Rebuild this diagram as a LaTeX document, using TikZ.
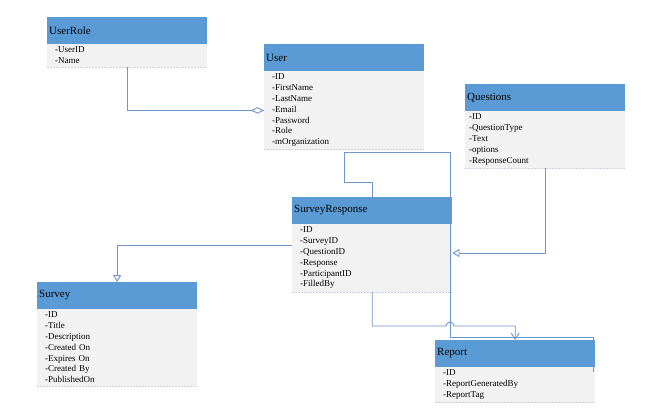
\documentclass[tikz,border=0pt]{standalone}
\usepackage{fontspec}
\setmainfont{Liberation Serif}
\usepackage{tikz}
\usetikzlibrary{arrows.meta,positioning,calc}

\definecolor{headblue}{HTML}{5B9BD5}
\definecolor{bodygrey}{HTML}{F2F2F2}
\definecolor{linkblue}{HTML}{6F96CC}
\definecolor{rulegrey}{HTML}{C9D0DB}

\tikzset{
  clshead/.style={fill=headblue,anchor=north west,minimum width=160pt,minimum height=26.5pt,
    text width=156pt,inner xsep=2pt,inner ysep=0pt,align=left,font=\rmfamily\fontsize{11}{12}\selectfont},
  clsbody/.style={fill=bodygrey,text width=144pt,inner xsep=8pt,inner ysep=3pt,align=left,
    font=\rmfamily\fontsize{9}{10.8}\selectfont},
  bodyrule/.style={draw=rulegrey,line width=1pt,dash pattern=on 2pt off 1pt},
  link/.style={draw=linkblue,line width=0.9pt},
}

\begin{document}
\begin{tikzpicture}[x=1pt,y=-1pt]
  \useasboundingbox[fill=white] (0,0) rectangle (646,418);

  \node[clshead] (urHead) at (47,17) {UserRole};
  \node[clsbody,below right=0pt and 0pt of urHead.south west] (urBody) {-UserID\\-Name};

  \node[clshead] (usrHead) at (264,44) {User};
  \node[clsbody,below right=0pt and 0pt of usrHead.south west] (usrBody)
    {-ID\\-FirstName\\-LastName\\-Email\\-Password\\-Role\\-mOrganization};

  \node[clshead] (qHead) at (465,84) {Questions};
  \node[clsbody,inner xsep=4pt,text width=152pt,below right=0pt and 0pt of qHead.south west] (qBody)
    {-ID\\-QuestionType\\-Text\\-options\\-ResponseCount};

  \node[clshead] (srHead) at (292,197) {SurveyResponse};
  \node[clsbody,below right=0pt and 0pt of srHead.south west] (srBody)
    {-ID\\-SurveyID\\-QuestionID\\-Response\\-ParticipantID\\-FilledBy};

  \node[clshead] (svHead) at (37,282) {Survey};
  \node[clsbody,below right=0pt and 0pt of svHead.south west] (svBody)
    {-ID\\-Title\\-Description\\-Created On\\-Expires On\\-Created By\\-PublishedOn};

  \node[clshead] (rpHead) at (435,340) {Report};
  \node[clsbody,below right=0pt and 0pt of rpHead.south west] (rpBody)
    {-ID\\-ReportGeneratedBy\\-ReportTag};

  \foreach \b in {urBody,usrBody,qBody,srBody,svBody,rpBody}
    \draw[bodyrule] (\b.south west) -- (\b.south east);

  \draw[link,-{Diamond[open,length=13pt,width=6.5pt]}] (urBody.south) |- (usrBody.west);
  \draw[link,-{Triangle[open,length=7pt,width=8pt]}] (qBody.south) |- ($(srBody.east)+(0,-5)$);
  \draw[link,-{Triangle[open,length=7pt,width=8pt]}] ($(srBody.north west)+(0,22)$) -| (svHead.north);
  \draw[link] (srHead.north) |- ($(usrBody.south)+(0,33)$) -- ($(usrBody.south)+(0,3)$)
    -| ($(rpHead.north west)+(15,-3)$) -| ($(rpHead.north east)+(-2,32)$);
  \draw[link,-{Straight Barb[length=6pt,width=8pt]}] (srBody.south) |- ($(rpHead.north west)+(11,-14)$)
    arc[start angle=180,end angle=0,radius=4pt] -| (rpHead.north);
\end{tikzpicture}
\end{document}
